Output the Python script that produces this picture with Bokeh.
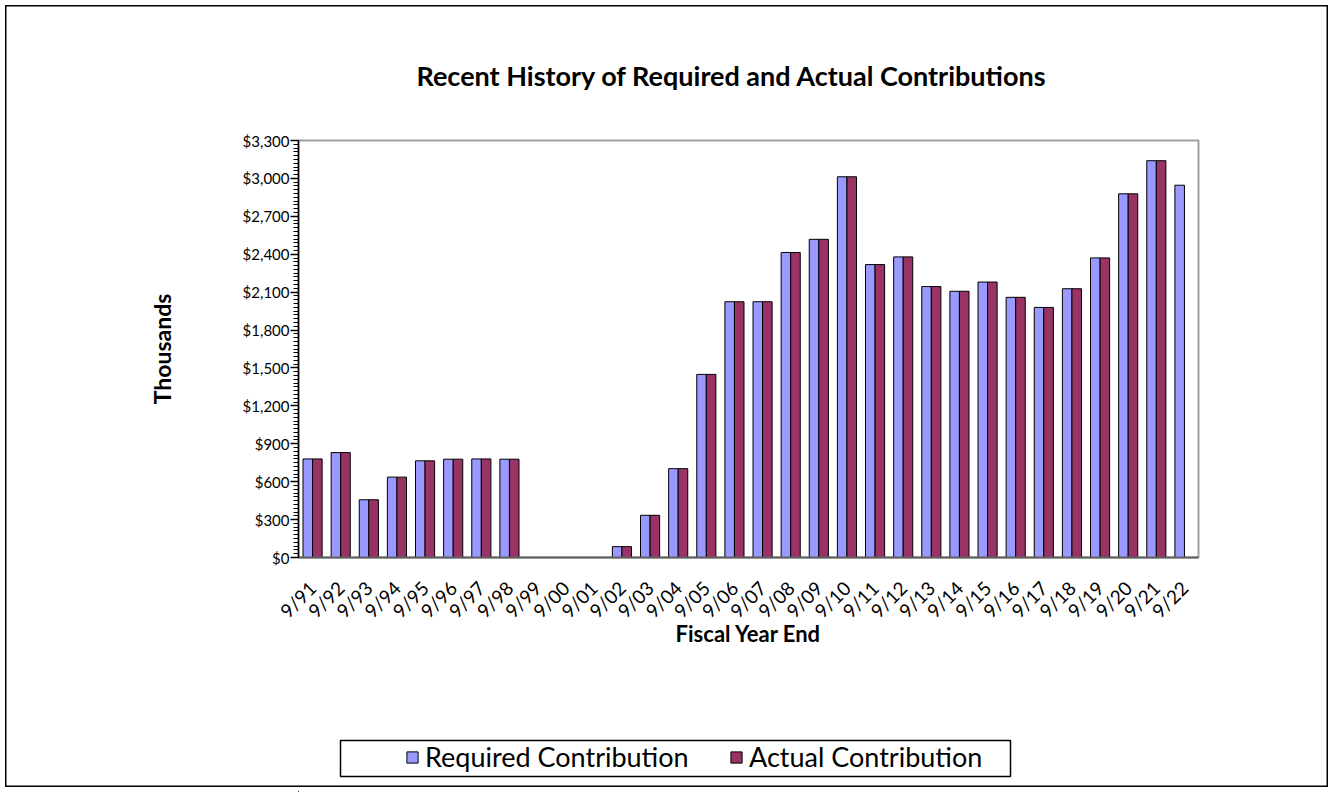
import math
from bokeh.plotting import figure
from bokeh.models import (ColumnDataSource, FactorRange, NumeralTickFormatter, Title,
                          Legend, LegendItem, FixedTicker, BoxAnnotation)
from bokeh.transform import dodge
from bokeh.layouts import column
from bokeh.embed import file_html
from bokeh.resources import INLINE

years = ["9/91", "9/92", "9/93", "9/94", "9/95", "9/96", "9/97", "9/98", "9/99", "9/00",
         "9/01", "9/02", "9/03", "9/04", "9/05", "9/06", "9/07", "9/08", "9/09", "9/10",
         "9/11", "9/12", "9/13", "9/14", "9/15", "9/16", "9/17", "9/18", "9/19", "9/20",
         "9/21", "9/22"]
required = [780, 830, 457, 636, 765, 778, 780, 778, 0, 0,
            0, 86, 334, 703, 1449, 2024, 2024, 2414, 2518, 3013,
            2318, 2379, 2144, 2107, 2180, 2059, 1979, 2127, 2371, 2878,
            3140, 2946]
actual = [780, 830, 457, 636, 765, 778, 780, 778, 0, 0,
          0, 86, 334, 703, 1449, 2024, 2024, 2414, 2518, 3013,
          2318, 2379, 2144, 2107, 2180, 2059, 1979, 2127, 2371, 2878,
          3140, 0]
y_ticks = list(range(0, 3301, 300))
series_names = ["Required Contribution", "Actual Contribution"]
series_colors = ["#9999FF", "#993366"]

FONT = "Lato"
W = 1333
H1, H2 = 720, 72
FL, FR, FT, FB = 298, 1198, 140, 557

src = ColumnDataSource(dict(year=years, required=required, actual=actual))

p = figure(x_range=FactorRange(*years, range_padding=0.0), y_range=(0, 3300),
           width=W, height=H1, output_backend="svg", toolbar_location=None,
           min_border_left=FL, min_border_right=W - FR, min_border_top=FT,
           min_border_bottom=H1 - FB)
p.border_fill_color = None
p.styles = {"box-shadow": ("inset 0 5px 0 0 #ffffff, inset 5px 0 0 0 #ffffff, "
                           "inset -5px 0 0 0 #ffffff, inset 0 6.5px 0 0 #000000, "
                           "inset 6.5px 0 0 0 #000000, inset -6.5px 0 0 0 #000000")}

p.vbar(x=dodge("year", -0.17, range=p.x_range), top="required", width=0.34, source=src,
       fill_color=series_colors[0], line_color="#000000", line_width=1)
p.vbar(x=dodge("year", 0.17, range=p.x_range), top="actual", width=0.34, source=src,
       fill_color=series_colors[1], line_color="#000000", line_width=1)

p.xgrid.visible = False
p.ygrid.visible = False
p.outline_line_color = "#A0A0A0"
p.outline_line_width = 2
p.background_fill_color = "white"

p.title = Title(text="Recent History of Required and Actual Contributions",
                align="left", text_font=FONT, text_font_style="bold",
                text_font_size="27px", text_color="#000000", standoff=98, offset=118)

# y axis
p.yaxis.ticker = FixedTicker(ticks=y_ticks, minor_ticks=list(range(0, 3301, 30)))
p.yaxis.formatter = NumeralTickFormatter(format="$0,0")
p.yaxis.major_label_text_font = FONT
p.yaxis.major_label_text_font_size = "15px"
p.yaxis.major_label_text_color = "#000000"
p.yaxis.major_label_standoff = 1
p.yaxis.axis_line_color = "#000000"
p.yaxis.axis_line_width = 1.5
p.yaxis.major_tick_in = 0
p.yaxis.major_tick_out = 8
p.yaxis.minor_tick_in = 0
p.yaxis.minor_tick_out = 5
p.yaxis.major_tick_line_width = 1.5
p.yaxis.minor_tick_line_width = 1.2
p.yaxis.axis_label = "Thousands"
p.yaxis.axis_label_text_font = FONT
p.yaxis.axis_label_text_font_style = "bold"
p.yaxis.axis_label_text_font_size = "23px"
p.yaxis.axis_label_text_color = "#000000"
p.yaxis.axis_label_standoff = 64

# x axis
p.xaxis.major_label_orientation = math.pi / 4
p.xaxis.major_label_text_font = FONT
p.xaxis.major_label_text_font_size = "19px"
p.xaxis.major_label_text_color = "#000000"
p.xaxis.major_label_standoff = 21
p.xaxis.major_tick_line_color = None
p.xaxis.axis_line_color = "#606060"
p.xaxis.axis_line_width = 2
p.xaxis.axis_label = "Fiscal Year End"
p.xaxis.axis_label_text_font = FONT
p.xaxis.axis_label_text_font_style = "bold"
p.xaxis.axis_label_text_font_size = "22px"
p.xaxis.axis_label_text_color = "#000000"
p.xaxis.axis_label_standoff = -13

# legend strip (its frame is aligned with the chart frame: x 298..1198)
q = figure(width=W, height=H2, x_range=(FL, FR), y_range=(0, H2), output_backend="svg",
           toolbar_location=None, x_axis_type=None, y_axis_type=None,
           min_border_left=FL, min_border_right=W - FR, min_border_top=0, min_border_bottom=0)
q.border_fill_color = None
q.background_fill_color = None
q.outline_line_color = None
q.xgrid.visible = False
q.ygrid.visible = False
q.styles = {"box-shadow": ("inset 0 -5px 0 0 #ffffff, inset 5px 0 0 0 #ffffff, "
                           "inset -5px 0 0 0 #ffffff, inset 0 -6.5px 0 0 #000000, "
                           "inset 6.5px 0 0 0 #000000, inset -6.5px 0 0 0 #000000")}
d1 = q.vbar(x=[-100], top=[1], width=1, fill_color=series_colors[0], line_color="#000000")
d2 = q.vbar(x=[-100], top=[1], width=1, fill_color=series_colors[1], line_color="#000000")
q.add_layout(BoxAnnotation(left=340, right=1010, top=H2 - 20, bottom=H2 - 56,
                           fill_alpha=0, line_color="#000000", line_alpha=1.0,
                           line_width=1.5))
q.add_layout(Legend(items=[LegendItem(label=series_names[0], renderers=[d1]),
                           LegendItem(label=series_names[1], renderers=[d2])],
                    orientation="horizontal", location=(403 - FL, 17),
                    label_text_font=FONT, label_text_font_size="27px",
                    label_text_color="#000000", label_width=299,
                    glyph_width=14, glyph_height=14, label_standoff=6, spacing=5,
                    padding=2, margin=0, border_line_alpha=0, background_fill_alpha=0),
             "center")

layout = column(p, q, spacing=0)

open("out.html", "w").write(file_html(layout, INLINE))
